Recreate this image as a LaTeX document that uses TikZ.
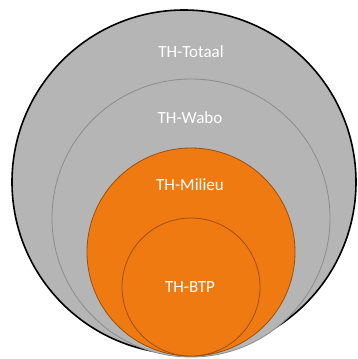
\documentclass[tikz,border=0pt]{standalone}
\usepackage{fontspec}
\setmainfont{Carlito}
\definecolor{ringgray}{HTML}{B5B5B5}
\definecolor{ringorange}{HTML}{F07A12}
\tikzstyle{every node}=[inner sep=0pt]
\tikzstyle{grayring}=[circle,draw=black!45,thick,fill=ringgray]
\tikzstyle{orangering}=[circle,draw=black!35!ringorange,thick,fill=ringorange]
\tikzstyle{lbl}=[text=white,font=\fontsize{17}{20}\selectfont]

\begin{document}
\begin{tikzpicture}[x=1pt,y=-1pt]
    \useasboundingbox (0,0) rectangle (357,359);
    \node [grayring,draw=black,line width=1.6pt,minimum size=344pt] (totaal) at (184,182) {};
    \node [grayring,minimum size=278pt] (wabo) at (191,218) {};
    \node [orangering,minimum size=208pt] (milieu) at (191,252) {};
    \node [orangering,minimum size=138pt] (btp) at (191,287) {};
    \node [lbl] (totaalText) at (191,52) {TH-Totaal};
    \node [lbl] (waboText) at (190,118) {TH-Wabo};
    \node [lbl] (milieuText) at (190,185) {TH-Milieu};
    \node [lbl] (btpText) at (190,287) {TH-BTP};
\end{tikzpicture}
\end{document}
